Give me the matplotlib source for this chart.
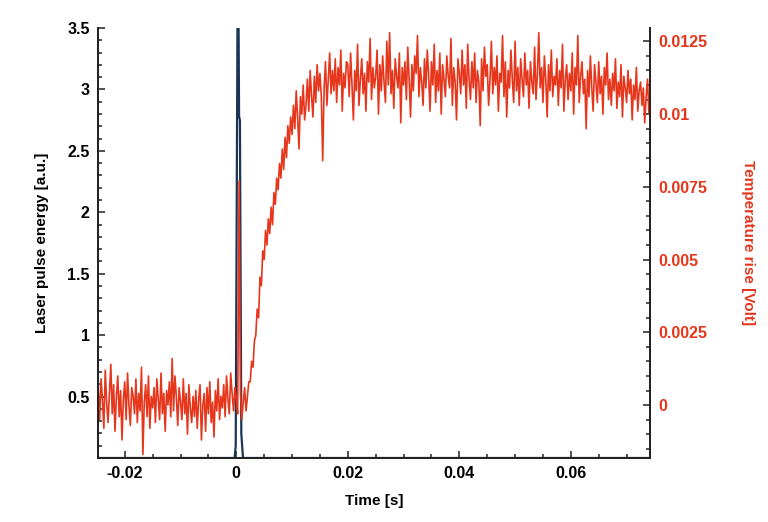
import numpy as np
import matplotlib.pyplot as plt
from matplotlib.ticker import MultipleLocator, FormatStrFormatter

plt.rcParams['font.family'] = ['Liberation Sans', 'DejaVu Sans']
plt.rcParams['font.weight'] = 'bold'

# laser pulse (left axis, a.u.)
t_pulse = [-0.025, -0.0003, -0.0001, 0.0003, 0.0005, 0.00065, 0.0009, 0.0012, 0.075]
e_pulse = [0, 0, 0.1, 4.5, 2.78, 2.75, 0.2, 0, 0]

# temperature signal (right axis), units of 1e-4 V, sampled every 0.25 ms from -25 ms
dt = 0.00025
t0 = -0.025
base = [
    -2, 6, -5, 9, 2, -8, 12, 1, -6, 4,
    14, -3, 7, -9, 3, 10, -4, 5, -12, 2,
    8, -5, 11, 0, -7, 6, 3, -3, 9, -6,
    4, -2, 13, -17, 1, 7, -4, 10, -8, 3,
    -1, 6, -6, 9, 2, -5, 11, -3, 4, -9,
    5, 0, 8, -4, 16, -2, 10, 3, -7, 6,
    1, -5, 9, -3, 4, -10, 7, -1, -6, 3,
    -4, 5, -8, 2, 7, -12, 0, 4, -9, 6,
    -3, 8, -6, 1, -11, 5, -2, 9, -5, 3,
    -1, 7, -4, 10, 2, -3, 11, 4, -2, 6,
]
rise = [
    2, -3, 77, 4, -5, 1, 6, -2, 3, 8,
    8, 15, 13, 22, 24, 33, 30, 44, 41, 53,
    50, 60, 55, 64, 59, 68, 62, 73, 69, 78,
    74, 83, 78, 88, 81, 92, 85, 96, 90, 99,
    93, 103, 95, 108, 99, 88, 106, 100, 110, 98,
    103, 112, 101, 115, 106, 99, 113, 104, 117, 108,
    114, 106, 84, 109, 118, 103, 112, 121, 107, 115,
    108, 119, 104, 116, 110, 122, 101, 114, 109, 118,
]
plateau = [
    117, 106, 121, 110, 98, 115, 108, 124, 103, 112,
    119, 107, 114, 101, 118, 111, 126, 105, 116, 109,
    113, 122, 100, 117, 108, 120, 111, 104, 125, 110,
    128, 107, 115, 102, 119, 113, 109, 121, 97, 116,
    110, 118, 105, 123, 112, 99, 117, 108, 120, 114,
    127, 106, 116, 111, 103, 119, 109, 122, 113, 101,
    118, 110, 124, 104, 115, 108, 121, 100, 117, 112,
    106, 120, 113, 109, 126, 103, 116, 111, 98, 119,
    114, 107, 122, 110, 117, 102, 124, 112, 105, 118,
    109, 121, 104, 115, 111, 96, 119, 108, 123, 113,
    117, 103, 112, 125, 107, 116, 110, 120, 101, 114,
    111, 127, 106, 118, 99, 115, 109, 122, 112, 104,
    125, 108, 116, 103, 119, 112, 106, 121, 110, 115,
    102, 118, 111, 107, 123, 105, 114, 128, 109, 116,
    104, 120, 112, 99, 117, 108, 122, 106, 113, 110,
    119, 103, 115, 109, 124, 101, 112, 117, 105, 114,
    108, 121, 100, 116, 110, 127, 104, 113, 118, 107,
    112, 95, 115, 106, 120, 109, 101, 117, 111, 104,
    118, 107, 113, 100, 116, 110, 121, 105, 112, 103,
    114, 108, 119, 102, 111, 106, 117, 99, 113, 109,
    104, 115, 107, 112, 98, 110, 105, 116, 101, 108,
    111, 103, 109, 97, 106, 112, 100, 107, 102, 105,
]

volt = np.array(base + rise + plateau) * 1e-4
t = t0 + dt * np.arange(len(volt))

red = '#e6361c'
blue = '#1b3558'

fig = plt.figure(figsize=(7.68, 5.22), dpi=100)
ax1 = fig.add_axes([0.1276, 0.1226, 0.7188, 0.8238])
ax1.plot(t_pulse, e_pulse, color=blue, lw=1.6)
ax1.set_xlim(-0.0248, 0.0742)
ax1.set_ylim(0, 3.5)
ax1.set_xlabel('Time [s]', fontsize=11, fontweight='bold', labelpad=9)
ax1.set_ylabel('Laser pulse energy [a.u.]', fontsize=11, fontweight='bold', labelpad=13)
ax1.set_yticks([0.5, 1, 1.5, 2, 2.5, 3, 3.5])
ax1.yaxis.set_major_formatter(FormatStrFormatter('%g'))
ax1.yaxis.set_minor_locator(MultipleLocator(0.1))
ax1.xaxis.set_major_locator(MultipleLocator(0.02))
ax1.xaxis.set_minor_locator(MultipleLocator(0.005))
ax1.xaxis.set_major_formatter(FormatStrFormatter('%g'))

ax2 = ax1.twinx()
ax2.plot(t, volt, color=red, lw=1.2)
ax2.set_ylim(-0.00182, 0.01296)
ax2.set_yticks([0, 0.0025, 0.005, 0.0075, 0.01, 0.0125])
ax2.yaxis.set_major_formatter(FormatStrFormatter('%g'))
ax2.yaxis.set_minor_locator(MultipleLocator(0.0005))
ax2.set_ylabel('Temperature rise [Volt]', fontsize=11, fontweight='bold',
               color=red, rotation=270, labelpad=34)

for ax in (ax1, ax2):
    ax.spines['top'].set_visible(False)
    for s in ('left', 'right', 'bottom'):
        ax.spines[s].set_linewidth(1.3)
        ax.spines[s].set_color('#222222')
    ax.tick_params(which='both', direction='in', width=1.1, labelsize=11.5, color='#222222')
    ax.tick_params(which='major', length=5, pad=6)
    ax.tick_params(which='minor', length=3)

ax1.tick_params(axis='y', which='both', right=False)
ax1.tick_params(axis='x', which='both', top=False)
ax2.tick_params(axis='y', labelcolor=red)
for lab in ax1.get_xticklabels() + ax1.get_yticklabels() + ax2.get_yticklabels():
    lab.set_fontweight('bold')

fig.savefig('out.png', dpi=100)
